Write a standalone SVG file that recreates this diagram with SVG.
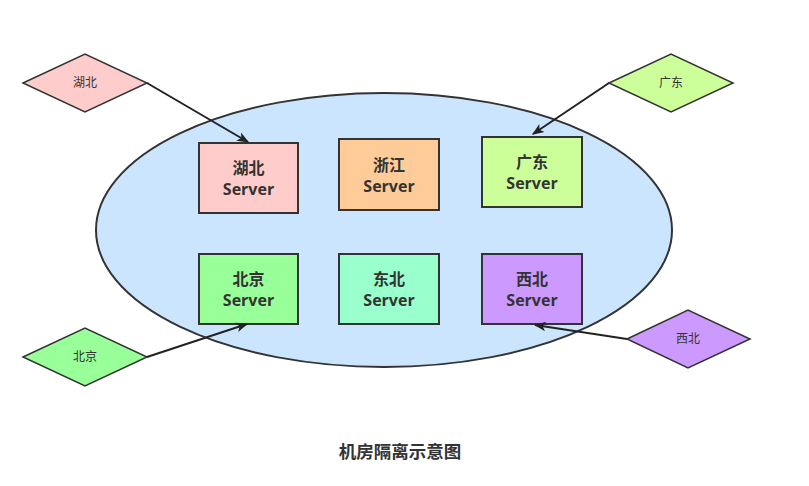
<svg xmlns="http://www.w3.org/2000/svg" width="809" height="486" viewBox="0 0 809 486">
<defs>
<style>
.box{stroke:#333;stroke-width:2}
.dia{stroke:#333;stroke-width:1.5}
.bt{font-family:"Open Sans","Noto Sans CJK SC",sans-serif;font-size:16px;font-weight:bold;fill:#333;text-anchor:middle}
.dt{font-family:"Noto Sans CJK SC",sans-serif;font-size:12px;fill:#333;text-anchor:middle}
.edge{stroke:#222;stroke-width:2;fill:none;marker-end:url(#arr)}
</style>
<marker id="arr" viewBox="0 0 10 10" refX="9" refY="5" markerWidth="6" markerHeight="6" markerUnits="strokeWidth" orient="auto">
<path d="M0,1 L10,5 L0,9 L2.5,5 Z" fill="#222"/>
</marker>
</defs>
<rect width="809" height="486" fill="#fff"/>
<g id="zone">
<ellipse cx="384" cy="230" rx="288" ry="137" fill="#CCE5FF" stroke="#333" stroke-width="2"/>
</g>
<g id="hubei-server"><rect class="box" x="199" y="143" width="99" height="70" fill="#FFCCCC"/><text class="bt" x="248.5" y="174">湖北</text><text class="bt" x="248.5" y="195">Server</text></g>
<g id="zhejiang-server"><rect class="box" x="339" y="139" width="100" height="71" fill="#FFCC99"/><text class="bt" x="389" y="171">浙江</text><text class="bt" x="389" y="192">Server</text></g>
<g id="guangdong-server"><rect class="box" x="482" y="137" width="100" height="70" fill="#CCFF99"/><text class="bt" x="532" y="168">广东</text><text class="bt" x="532" y="189">Server</text></g>
<g id="beijing-server"><rect class="box" x="199" y="254" width="99" height="70" fill="#99FF99"/><text class="bt" x="248.5" y="285">北京</text><text class="bt" x="248.5" y="306">Server</text></g>
<g id="dongbei-server"><rect class="box" x="339" y="254" width="100" height="70" fill="#99FFCC"/><text class="bt" x="389" y="285">东北</text><text class="bt" x="389" y="306">Server</text></g>
<g id="xibei-server"><rect class="box" x="482" y="254" width="100" height="70" fill="#CC99FF"/><text class="bt" x="532" y="285">西北</text><text class="bt" x="532" y="306">Server</text></g>
<g id="hubei"><polygon class="dia" points="23,83 85,54 147,83 85,112" fill="#FFCCCC"/><text class="dt" x="85" y="87">湖北</text></g>
<g id="guangdong"><polygon class="dia" points="609,83 671,54 733,83 671,112" fill="#CCFF99"/><text class="dt" x="671" y="87">广东</text></g>
<g id="beijing"><polygon class="dia" points="23,357 85,328 147,357 85,386" fill="#99FF99"/><text class="dt" x="85" y="361">北京</text></g>
<g id="xibei"><polygon class="dia" points="627,339 688,310 750,339 688,368" fill="#CC99FF"/><text class="dt" x="688" y="343">西北</text></g>
<g id="connectors">
<line class="edge" x1="147" y1="83" x2="248" y2="142"/>
<line class="edge" x1="609" y1="83" x2="533" y2="134"/>
<line class="edge" x1="147" y1="357" x2="247" y2="324"/>
<line class="edge" x1="627" y1="339" x2="535" y2="325"/>
</g>
<text x="400" y="458" font-family="'Noto Sans CJK SC',sans-serif" font-size="17.5" font-weight="bold" fill="#333" text-anchor="middle">机房隔离示意图</text>
</svg>
